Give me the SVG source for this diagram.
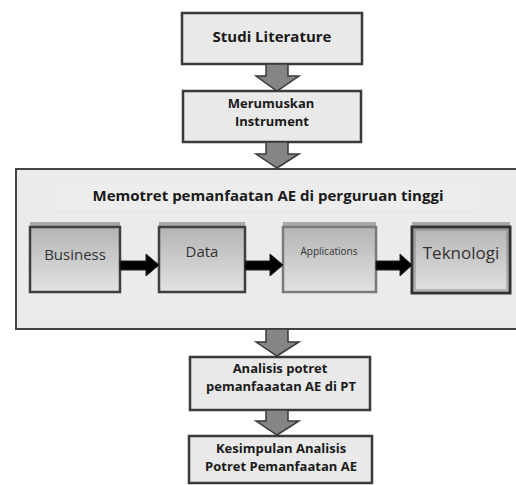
<svg xmlns="http://www.w3.org/2000/svg" width="516" height="485" viewBox="0 0 516 485">
<defs>
<linearGradient id="g" x1="0" y1="0" x2="0" y2="1">
<stop offset="0" stop-color="#b4b4b4"/>
<stop offset="1" stop-color="#e2e2e2"/>
</linearGradient>
<style>
.box{fill:#e9e9e9;stroke:#3a3a3a;stroke-width:2.5}
.outer{fill:#ebebeb;stroke:#444;stroke-width:2}
.inner{fill:url(#g);stroke:#3f3f3f;stroke-width:2.5}
.shade{fill:#a8a8a8}
.bt{font-family:"Open Sans","DejaVu Sans",sans-serif;font-weight:bold;fill:#1a1a1a;text-anchor:middle}
.rt{font-family:"Open Sans","DejaVu Sans",sans-serif;fill:#333;text-anchor:middle}
.down{fill:#858585;stroke:#3a3a3a;stroke-width:1.5}
.right{fill:#000;stroke:#222;stroke-width:1}
</style>
</defs>
<rect width="516" height="485" fill="#fff"/>
<g id="studi">
<rect class="box" x="182" y="13" width="180" height="51"/>
<text class="bt" x="272" y="38" font-size="15" dominant-baseline="middle">Studi Literature</text>
</g>
<g id="merumuskan">
<rect class="box" x="183" y="91" width="178" height="51"/>
<text class="bt" x="271" y="105" font-size="13" dominant-baseline="middle">Merumuskan</text>
<text class="bt" x="272" y="123" font-size="13" dominant-baseline="middle">Instrument</text>
</g>
<g id="memotret">
<rect class="outer" x="16" y="169" width="502" height="160"/>
<rect x="55" y="183" width="425" height="28" fill="#ededed" stroke="#e6e6e6" stroke-width="1"/>
<text class="bt" x="268" y="197" font-size="15" dominant-baseline="middle">Memotret pemanfaatan AE di perguruan tinggi</text>
</g>
<g id="business">
<rect class="shade" x="30" y="222" width="90" height="6"/>
<rect class="inner" x="30" y="227" width="90" height="65"/>
<text class="rt" x="75" y="256" font-size="15" dominant-baseline="middle">Business</text>
</g>
<g id="data">
<rect class="shade" x="159" y="222" width="86" height="6"/>
<rect class="inner" x="159" y="227" width="86" height="65"/>
<text class="rt" x="202" y="253" font-size="15" dominant-baseline="middle">Data</text>
</g>
<g id="applications">
<rect class="shade" x="283" y="222" width="93" height="6"/>
<rect class="inner" x="283" y="227" width="93" height="65" style="stroke:#7a7a7a"/>
<text class="rt" x="329" y="252" font-size="10" dominant-baseline="middle">Applications</text>
</g>
<g id="teknologi">
<rect class="shade" x="412" y="222" width="98" height="6"/>
<rect class="inner" x="412" y="227" width="98" height="66" style="stroke:#333;stroke-width:3"/>
<rect x="415" y="230" width="92" height="60" fill="none" stroke="#777" stroke-width="0.8"/>
<text class="rt" x="461" y="254" font-size="17" dominant-baseline="middle">Teknologi</text>
</g>
<g id="analisis">
<rect class="box" x="190" y="357" width="180" height="53"/>
<text class="bt" x="280" y="370" font-size="13" dominant-baseline="middle">Analisis potret</text>
<text class="bt" x="281" y="388" font-size="13" dominant-baseline="middle">pemanfaaatan AE di PT</text>
</g>
<g id="kesimpulan">
<rect class="box" x="189" y="436" width="183" height="47"/>
<text class="bt" x="281" y="450" font-size="13" dominant-baseline="middle">Kesimpulan Analisis</text>
<text class="bt" x="281" y="468" font-size="13" dominant-baseline="middle">Potret Pemanfaatan AE</text>
</g>
<g id="connectors">
<path class="down" d="M266,64 H288 V76 H299 L277,91 L256,76 H266 Z"/>
<path class="down" d="M266,142 H288 V154 H299 L277,168 L256,154 H266 Z"/>
<path class="down" d="M266,329 H288 V342 H299 L277,356 L256,342 H266 Z"/>
<path class="down" d="M266,410 H288 V421 H299 L277,435 L256,421 H266 Z"/>
<path class="right" d="M120,261 H146 V254 L159,265 L146,276 V270 H120 Z"/>
<path class="right" d="M245,261 H270 V254 L283,265 L270,276 V270 H245 Z"/>
<path class="right" d="M376,261 H400 V254 L412,265 L400,276 V270 H376 Z"/>
</g>
</svg>
